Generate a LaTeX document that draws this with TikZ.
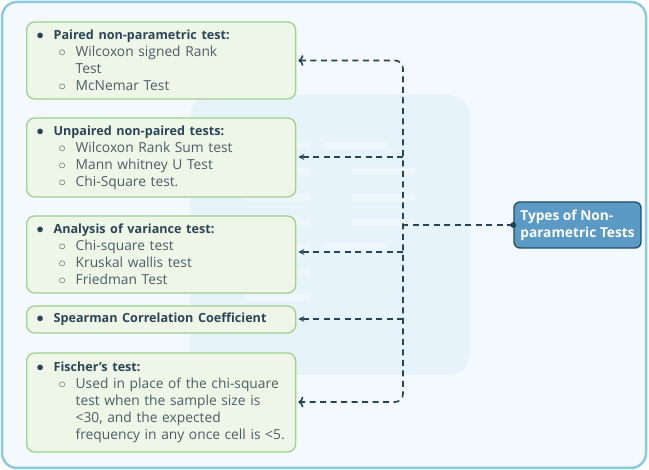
\documentclass[tikz,border=0pt]{standalone}
\usepackage{fontspec}
\setmainfont{Open Sans}
\usetikzlibrary{arrows.meta}

\definecolor{frameblue}{HTML}{8DCAE0}
\definecolor{pagebg}{HTML}{F3F9FC}
\definecolor{markbg}{HTML}{E7F3FA}
\definecolor{boxfill}{HTML}{EEF6E7}
\definecolor{boxline}{HTML}{9ED08E}
\definecolor{headtxt}{HTML}{2B4557}
\definecolor{itemtxt}{HTML}{4D5D68}
\definecolor{linkcol}{HTML}{24445C}
\definecolor{rootfill}{HTML}{5A9AC4}
\definecolor{rootline}{HTML}{1E4D6C}

\newcommand{\hd}[1]{\makebox[17pt][l]{\color{headtxt}$\bullet$}{\color{headtxt}\fontsize{12.6}{17}\selectfont\bfseries #1}}
\newcommand{\sbi}[1]{\hspace*{22pt}\makebox[17pt][l]{$\circ$}#1}
\newcommand{\sbc}[1]{\hspace*{39pt}#1}

\tikzset{
  testbox/.style={draw=boxline, fill=boxfill, line width=1.3pt, rounded corners=8pt,
    anchor=west, minimum width=269pt, text width=249pt, inner xsep=10pt,
    align=left, font=\fontsize{13.8}{17}\selectfont, text=itemtxt},
  rootbox/.style={draw=rootline, fill=rootfill, line width=1.3pt, rounded corners=6pt,
    minimum width=127pt, minimum height=46pt, inner xsep=6pt, align=left,
    text=white, font=\fontsize{13.7}{17}\selectfont\bfseries},
  link/.style={draw=linkcol, line width=1.6pt, dash pattern=on 6pt off 4.5pt,
    -{Stealth[length=6pt,width=6pt]}}
}

\begin{document}
\begin{tikzpicture}[x=1pt,y=-1pt]
  % page and frame
  \fill[white] (0,0) rectangle (649,470);
  \draw[frameblue, fill=pagebg, line width=2.5pt, rounded corners=15pt] (2,2) rectangle (646,468);

  % faint document mark behind
  \fill[markbg, rounded corners=22pt] (190,95) rectangle (470,375);
  \fill[white, opacity=0.3] (247,142) rectangle (310,149);
  \fill[white, opacity=0.3] (323,142) rectangle (387,149);
  \fill[white, opacity=0.3] (245,168) rectangle (310,175);
  \fill[white, opacity=0.3] (352,168) rectangle (415,175);
  \fill[white, opacity=0.3] (245,194) rectangle (310,201);
  \fill[white, opacity=0.3] (352,194) rectangle (415,201);
  \fill[white, opacity=0.3] (245,219) rectangle (310,226);
  \fill[white, opacity=0.3] (352,219) rectangle (415,226);
  \fill[white, opacity=0.3] (247,243) rectangle (310,250);
  \fill[white, opacity=0.3] (323,243) rectangle (387,250);
  \fill[white, opacity=0.3] (245,269) rectangle (310,276);
  \fill[white, opacity=0.3] (245,294) rectangle (310,301);

  % boxes
  \node[testbox, minimum height=77pt] (paired) at (26,60.5)
    {\hd{Paired non-parametric test:}\\ \sbi{Wilcoxon signed Rank}\\ \sbc{Test}\\ \sbi{McNemar Test}};
  \node[testbox, minimum height=79pt] (unpaired) at (26,157.5)
    {\hd{Unpaired non-paired tests:}\\ \sbi{Wilcoxon Rank Sum test}\\ \sbi{Mann whitney U Test}\\ \sbi{Chi-Square test.}};
  \node[testbox, minimum height=77pt] (anova) at (26,254.5)
    {\hd{Analysis of variance test:}\\ \sbi{Chi-square test}\\ \sbi{Kruskal wallis test}\\ \sbi{Friedman Test}};
  \node[testbox, minimum height=27pt] (spearman) at (26,319.5)
    {\hd{Spearman Correlation Coefficient}};
  \node[testbox, minimum height=99pt] (fischer) at (26,402.5)
    {\hd{Fischer's test:}\\ \sbi{Used in place of the chi-square}\\ \sbc{test when the sample size is}\\ \sbc{<30, and the expected}\\ \sbc{frequency in any once cell is <5.}};

  % root
  \node[rootbox] (root) at (577.5,225) {Types of Non-\\parametric Tests};

  % connectors
  \coordinate (trunk) at (403,0);
  \draw[link, <->, rounded corners=8pt] ([xshift=2pt]paired.east) -- (paired.east -| trunk)
    -- ([yshift=0.5pt]fischer.east -| trunk) -- ([xshift=2pt,yshift=0.5pt]fischer.east);
  \draw[link] ([yshift=0.5pt]unpaired.east -| trunk) -- ([xshift=2pt,yshift=0.5pt]unpaired.east);
  \draw[link] ([yshift=2.5pt]anova.east -| trunk) -- ([xshift=2pt,yshift=2.5pt]anova.east);
  \draw[link] ([yshift=0.5pt]spearman.east -| trunk) -- ([xshift=2pt,yshift=0.5pt]spearman.east);
  \draw[link, -] (root.west) -- (root.west -| trunk);
  \fill[linkcol] (root.west) circle (3pt);
\end{tikzpicture}
\end{document}
